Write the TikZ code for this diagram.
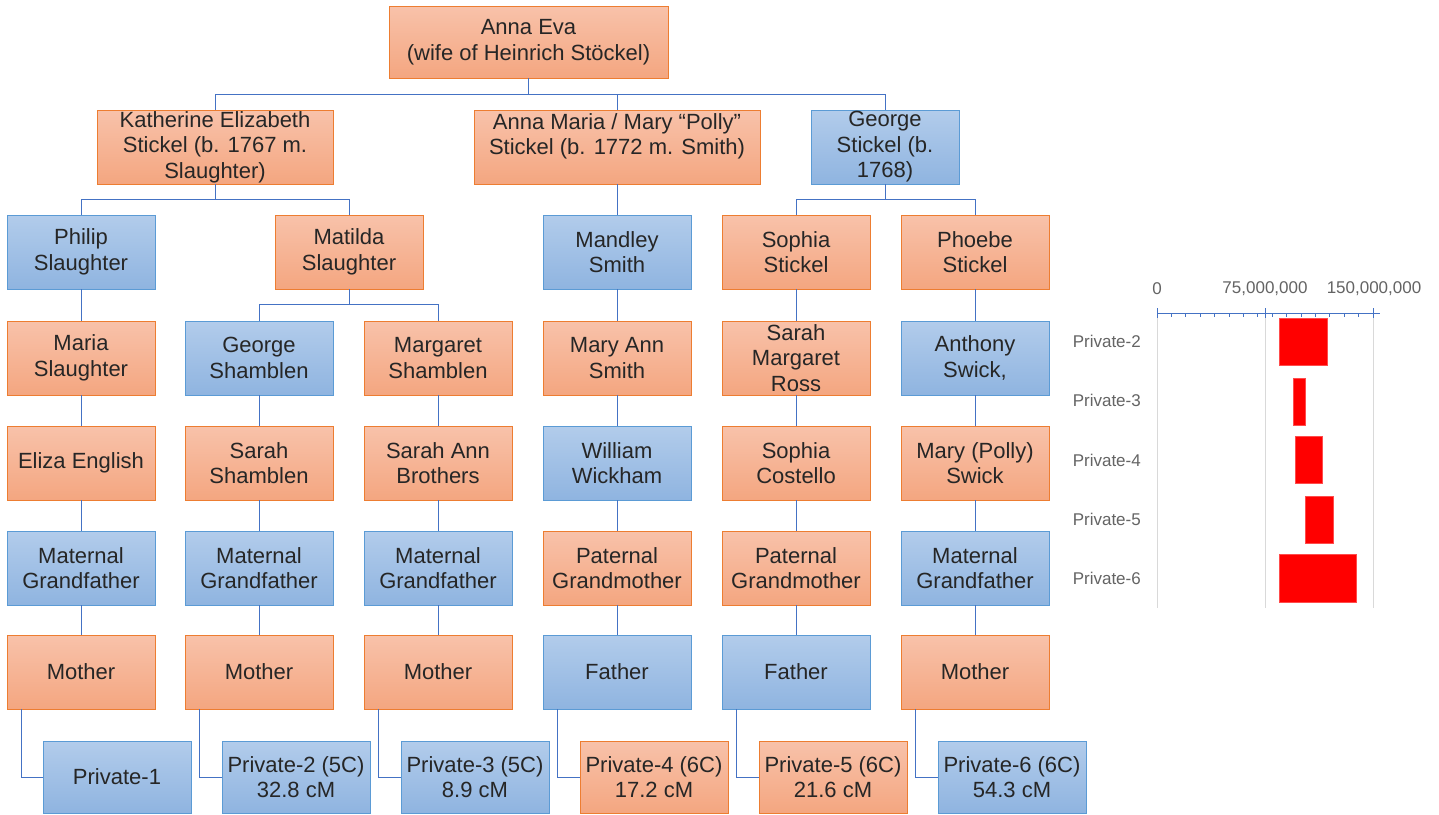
\documentclass[tikz,border=0pt]{standalone}
\usepackage{fontspec}
\setmainfont{Liberation Sans}
\definecolor{otop}{RGB}{248,194,170}
\definecolor{obot}{RGB}{244,166,128}
\definecolor{oborder}{RGB}{237,125,49}
\definecolor{btop}{RGB}{178,204,235}
\definecolor{bbot}{RGB}{143,180,224}
\definecolor{bborder}{RGB}{91,155,213}
\definecolor{conncol}{RGB}{68,114,196}
\definecolor{txt}{RGB}{38,38,38}
\definecolor{axtxt}{RGB}{100,100,100}
\definecolor{gridcol}{RGB}{217,217,217}
\begin{document}
\begin{tikzpicture}[x=1pt,y=-1pt,
  box/.style={draw, line width=0.8pt, minimum width=148pt, minimum height=74pt, inner sep=1pt, align=center, text=txt, font=\fontsize{22}{25.5}\selectfont},
  obox/.style={box, draw=oborder, top color=otop, bottom color=obot},
  bbox/.style={box, draw=bborder, top color=btop, bottom color=bbot},
  conn/.style={draw=conncol, line width=0.8pt},
  axlab/.style={text=axtxt, font=\fontsize{17}{20}\selectfont, inner sep=0pt},
  bar/.style={fill=red, draw=red!70!white, line width=0.4pt}]
\useasboundingbox (0,0) rectangle (1439,814);
\fill[white] (0,0) rectangle (1439,814);

% generation 1
\node[obox, minimum width=279pt, minimum height=72pt] (A) at (528.5,42) {Anna Eva\\(wife of Heinrich Stöckel)};
% generation 2
\node[obox, minimum width=236pt] (K) at (215,147) {Katherine Elizabeth\\Stickel (b. 1767 m.\\Slaughter)};
\node[obox, minimum width=286pt] (M) at (617,147) {Anna Maria / Mary “Polly”\\Stickel (b. 1772 m. Smith)\\\mbox{}};
\node[bbox] (G) at (885,147) {George\\Stickel (b.\\1768)};
% generation 3
\node[bbox] (r3a) at (81,252) {Philip\\Slaughter};
\node[obox] (r3b) at (349,252) {Matilda\\Slaughter};
\node[bbox] (r3d) at (617,252) {Mandley\\Smith};
\node[obox] (r3e) at (796,252) {Sophia\\Stickel};
\node[obox] (r3f) at (975,252) {Phoebe\\Stickel};
% generation 4
\node[obox] (r4a) at (81,358) {Maria\\Slaughter};
\node[bbox] (r4b) at (259,358) {George\\Shamblen};
\node[obox] (r4c) at (438,358) {Margaret\\Shamblen};
\node[obox] (r4d) at (617,358) {Mary Ann\\Smith};
\node[obox] (r4e) at (796,358) {Sarah\\Margaret\\Ross};
\node[bbox] (r4f) at (975,358) {Anthony\\Swick,};
% generation 5
\node[obox] (r5a) at (81,463) {Eliza English};
\node[obox] (r5b) at (259,463) {Sarah\\Shamblen};
\node[obox] (r5c) at (438,463) {Sarah Ann\\Brothers};
\node[bbox] (r5d) at (617,463) {William\\Wickham};
\node[obox] (r5e) at (796,463) {Sophia\\Costello};
\node[obox] (r5f) at (975,463) {Mary (Polly)\\Swick};
% generation 6
\node[bbox] (r6a) at (81,568) {Maternal\\Grandfather};
\node[bbox] (r6b) at (259,568) {Maternal\\Grandfather};
\node[bbox] (r6c) at (438,568) {Maternal\\Grandfather};
\node[obox] (r6d) at (617,568) {Paternal\\Grandmother};
\node[obox] (r6e) at (796,568) {Paternal\\Grandmother};
\node[bbox] (r6f) at (975,568) {Maternal\\Grandfather};
% generation 7
\node[obox] (r7a) at (81,672) {Mother};
\node[obox] (r7b) at (259,672) {Mother};
\node[obox] (r7c) at (438,672) {Mother};
\node[bbox] (r7d) at (617,672) {Father};
\node[bbox] (r7e) at (796,672) {Father};
\node[obox] (r7f) at (975,672) {Mother};
% generation 8
\node[bbox, minimum height=72pt] (p1) at (117,777) {Private-1};
\node[bbox, minimum height=72pt] (p2) at (296,777) {Private-2 (5C)\\32.8 cM};
\node[bbox, minimum height=72pt] (p3) at (475,777) {Private-3 (5C)\\8.9 cM};
\node[obox, minimum height=72pt] (p4) at (654,777) {Private-4 (6C)\\17.2 cM};
\node[obox, minimum height=72pt] (p5) at (833,777) {Private-5 (6C)\\21.6 cM};
\node[bbox, minimum height=72pt] (p6) at (1012,777) {Private-6 (6C)\\54.3 cM};

% connectors
\draw[conn] (A.south) -- ++(0,17);
\draw[conn] (K.north) -- ++(0,-15) -| (G.north);
\draw[conn] (M.north) -- ++(0,-15);
\draw[conn] (K.south) -- ++(0,16);
\draw[conn] (r3a.north) -- ++(0,-15) -| (r3b.north);
\draw[conn] (M.south) -- (r3d.north);
\draw[conn] (G.south) -- ++(0,16);
\draw[conn] (r3e.north) -- ++(0,-15) -| (r3f.north);
\draw[conn] (r3a.south) -- (r4a.north);
\draw[conn] (r3b.south) -- ++(0,16);
\draw[conn] (r4b.north) -- ++(0,-16) -| (r4c.north);
\draw[conn] (r3d.south) -- (r4d.north);
\draw[conn] (r3e.south) -- (r4e.north);
\draw[conn] (r3f.south) -- (r4f.north);
\foreach \c in {a,b,c,d,e,f}{
  \draw[conn] (r4\c.south) -- (r5\c.north);
  \draw[conn] (r5\c.south) -- (r6\c.north);
  \draw[conn] (r6\c.south) -- (r7\c.north);
}
\draw[conn] ([xshift=15pt]r7a.south west) |- (p1.west);
\draw[conn] ([xshift=15pt]r7b.south west) |- (p2.west);
\draw[conn] ([xshift=15pt]r7c.south west) |- (p3.west);
\draw[conn] ([xshift=15pt]r7d.south west) |- (p4.west);
\draw[conn] ([xshift=15pt]r7e.south west) |- (p5.west);
\draw[conn] ([xshift=15pt]r7f.south west) |- (p6.west);

% chart
\foreach \gx in {1157,1265,1373} \draw[gridcol, line width=0.8pt] (\gx,313) -- (\gx,608);
\draw[conncol, line width=1pt] (1157,313) -- (1380,313);
\foreach \gx in {1157,1265,1373} \draw[conncol, line width=1pt] (\gx,308) -- (\gx,318);
\foreach \v in {10,20,...,140} \draw[conncol, line width=0.8pt] ({1157+1.44*\v},313) -- ({1157+1.44*\v},317);
\node[axlab] (t0) at (1157,289) {0};
\node[axlab] (t1) at (1265,289) {75,000,000};
\node[axlab] (t2) at (1374,289) {150,000,000};
\node[axlab, anchor=east] (l2) at (1141,341) {Private-2};
\node[axlab, anchor=east] (l3) at (1141,400) {Private-3};
\node[axlab, anchor=east] (l4) at (1141,460) {Private-4};
\node[axlab, anchor=east] (l5) at (1141,519) {Private-5};
\node[axlab, anchor=east] (l6) at (1141,578) {Private-6};
\draw[bar] (1279.5,318.5) rectangle (1327.5,365);
\draw[bar] (1293,378) rectangle (1305.5,425);
\draw[bar] (1295.5,436) rectangle (1322.5,483);
\draw[bar] (1305.5,496) rectangle (1333.5,543);
\draw[bar] (1279.5,554.5) rectangle (1356,602);
\end{tikzpicture}
\end{document}
